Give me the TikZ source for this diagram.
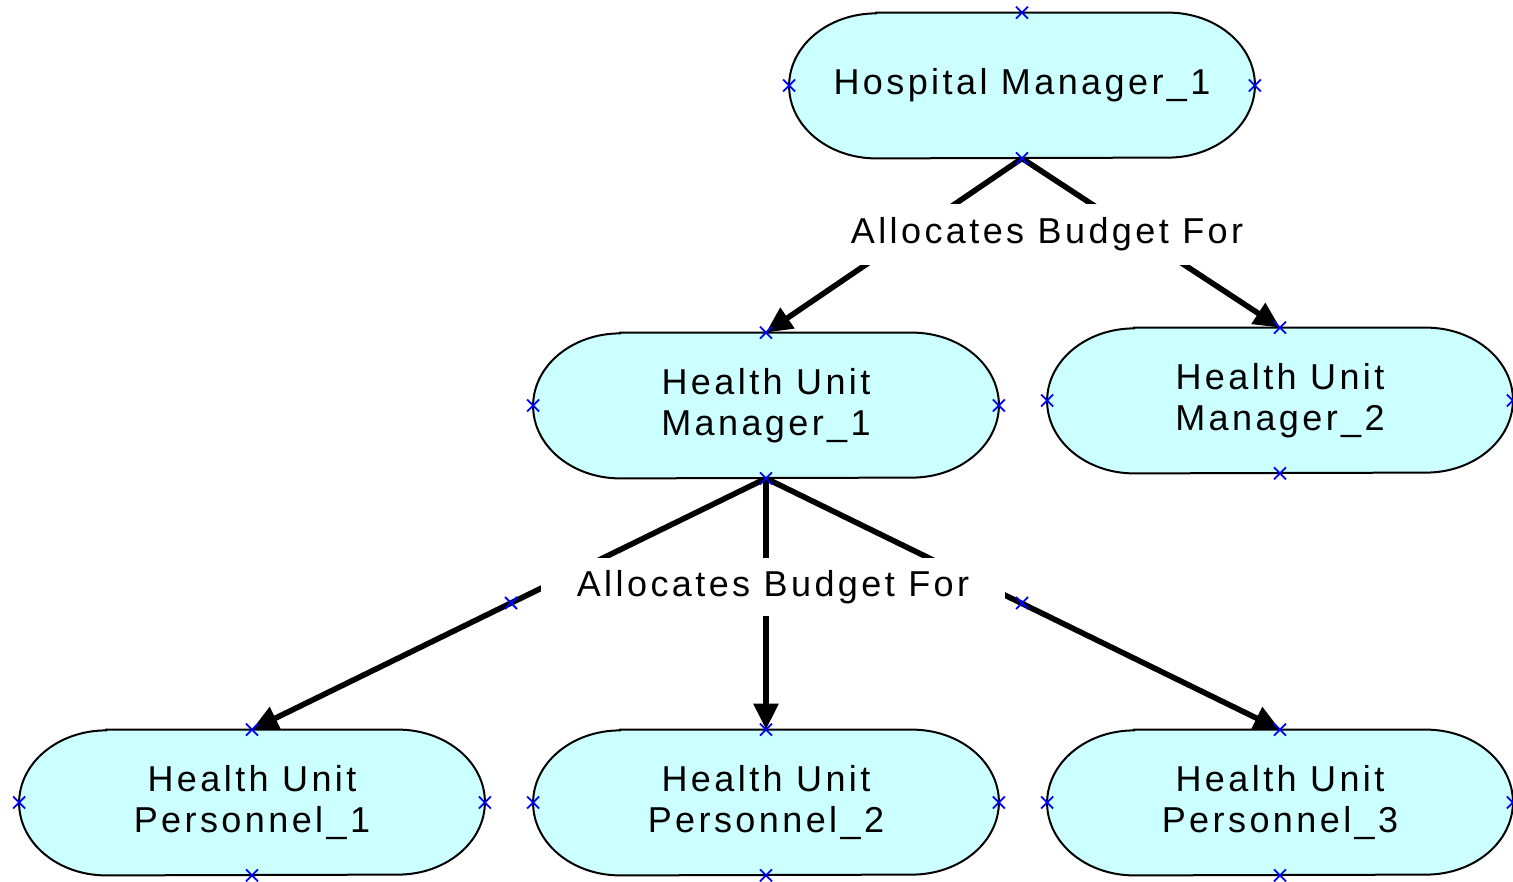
\documentclass[tikz,border=0pt]{standalone}
\usepackage{fontspec}
\setmainfont{Liberation Sans}[LetterSpace=9.5]
\usetikzlibrary{arrows.meta,backgrounds,calc}
\definecolor{nodefill}{HTML}{CCFFFF}
\definecolor{markblue}{HTML}{0000FF}
\tikzset{
  unitbox/.style={rectangle, minimum width=232.5pt, minimum height=72.5pt, inner sep=0pt,
    align=center, font=\fontsize{18}{20.5}\selectfont},
  shapeline/.style={draw=black, line width=1pt, fill=nodefill},
  conn/.style={line width=2.8pt, -{Triangle[length=13pt,width=12pt]}},
  relbox/.style={rectangle, fill=white, inner sep=0pt, font=\fontsize{18}{20.5}\selectfont},
  bluemark/.style={draw=markblue, line width=0.9pt}
}
\newcommand\bmark[1]{\draw[bluemark] (#1) +(-6,-6) -- +(6,6) (#1) +(-6,6) -- +(6,-6);}
\newcommand\stadium[1]{%
  \path[shapeline] ($(#1.north west)+(87,0)$) -- ($(#1.north east)+(-87,0)$)
    arc[start angle=-90, end angle=90, x radius=87, y radius=72.5]
    -- ($(#1.south west)+(87,0)$)
    arc[start angle=90, end angle=270, x radius=87, y radius=72.5] -- cycle;}
\begin{document}
\begin{tikzpicture}[x=0.5pt,y=-0.5pt]
\useasboundingbox (0,0) rectangle (1513,882);
% nodes
\node[unitbox] (hm1) at (1022,85.5) {Hospital Manager\_1};
\node[unitbox] (hum1) at (766,405.5) {Health Unit\\Manager\_1};
\node[unitbox] (hum2) at (1280,400.5) {Health Unit\\Manager\_2};
\node[unitbox] (per1) at (252,802.5) {Health Unit\\Personnel\_1};
\node[unitbox] (per2) at (766,802.5) {Health Unit\\Personnel\_2};
\node[unitbox] (per3) at (1280,802.5) {Health Unit\\Personnel\_3};
\begin{scope}[on background layer]
  \foreach \n in {hm1,hum1,hum2,per1,per2,per3} {\stadium{\n}}
\end{scope}
% connectors
\draw[conn] (hm1.south) -- (hum1.north);
\draw[conn] (hm1.south) -- (hum2.north);
\draw[conn] (hum1.south) -- (per1.north);
\draw[conn] (hum1.south) -- (per2.north);
\draw[conn] (hum1.south) -- (per3.north);
% relation labels
\node[relbox, minimum width=220pt, minimum height=30.5pt] (rel1) at (1047,234.5) {Allocates Budget For};
\node[relbox, minimum width=232pt, minimum height=29pt] (rel2) at (773,587) {Allocates Budget For};
% bend point markers
\coordinate (bp1) at (511,603);
\coordinate (bp2) at (1022,603);
\bmark{bp1}
\bmark{bp2}
% anchor markers
\foreach \n in {hm1,hum1,hum2,per1,per2,per3} {
  \bmark{\n.north}
  \bmark{\n.south}
  \bmark{\n.east}
  \bmark{\n.west}
}
\end{tikzpicture}
\end{document}
